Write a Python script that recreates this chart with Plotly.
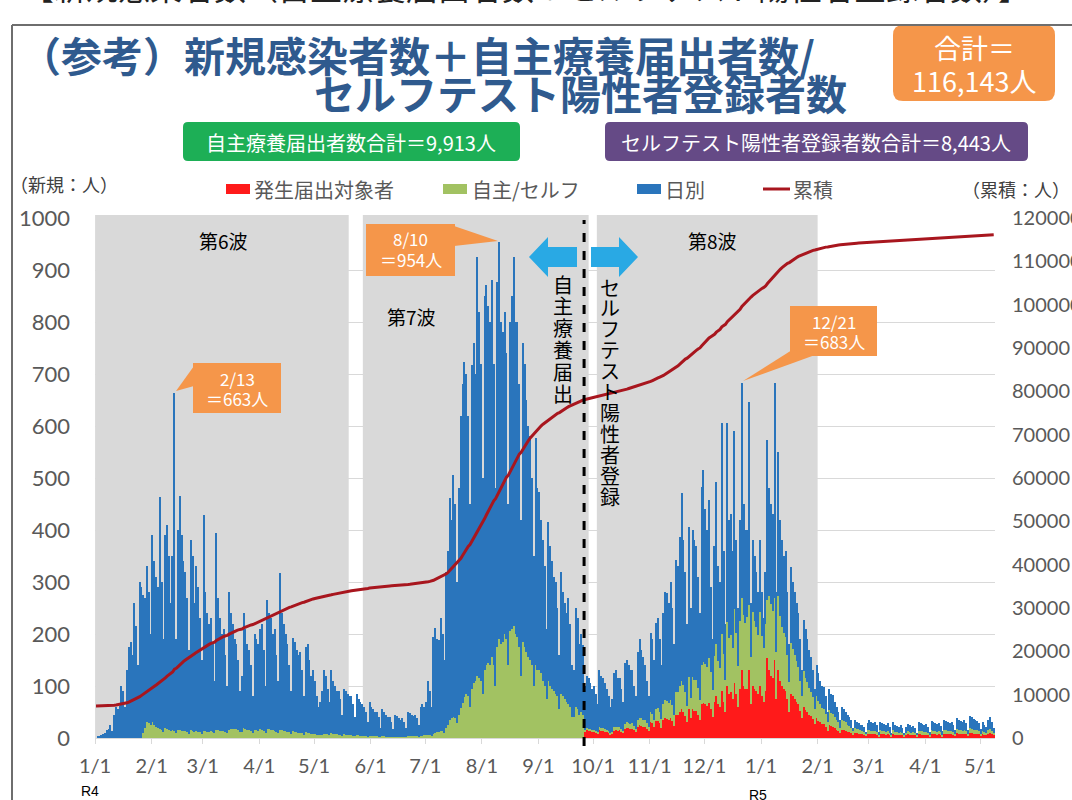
import pandas as pd
import plotly.graph_objects as go

# ---------------------------------------------------------------------------
# Data
# ---------------------------------------------------------------------------
TOTAL_CASES = 116143        # 合計
SELF_CARE_TOTAL = 9913      # 自主療養届出者数合計
SELF_TEST_TOTAL = 8443      # セルフテスト陽性者登録者数合計

dates = pd.date_range("2022-01-01", "2023-05-08", freq="D")

# daily new cases (日別), one row per week starting Saturday 2022-01-01
daily_total = [
    0, 2, 3, 5, 8, 10, 15,
    18, 25, 14, 45, 60, 55, 62,
    100, 90, 60, 130, 175, 185, 160,
    260, 215, 140, 300, 290, 275, 270,
    330, 280, 200, 390, 340, 310, 290,
    463, 300, 190, 390, 410, 350, 260,
    350, 663, 190, 400, 465, 390, 340,
    320, 270, 170, 380, 350, 260, 330,
    290, 230, 150, 429, 280, 240, 220,
    230, 180, 110, 394, 270, 230, 200,
    210, 160, 100, 280, 240, 220, 190,
    180, 150, 90, 120, 240, 210, 180,
    170, 140, 80, 200, 190, 180, 210,
    220, 170, 100, 265, 240, 230, 200,
    210, 160, 110, 317, 240, 220, 200,
    180, 140, 90, 192, 185, 170, 160,
    165, 130, 80, 175, 180, 150, 120,
    130, 110, 80, 60, 70, 90, 130,
    120, 95, 70, 131, 110, 100, 90,
    90, 75, 45, 95, 90, 85, 80,
    80, 65, 40, 85, 75, 70, 65,
    60, 50, 30, 70, 60, 55, 50,
    50, 40, 20, 55, 50, 45, 40,
    40, 30, 18, 45, 42, 38, 35,
    38, 30, 20, 50, 48, 45, 42,
    45, 38, 25, 60, 65, 60, 70,
    110, 90, 60, 195, 211, 190, 188,
    230, 200, 150, 320, 360, 461, 420,
    505, 450, 300, 480, 620, 680, 723,
    700, 620, 450, 717, 760, 700, 925,
    820, 720, 500, 850, 871, 830, 800,
    880, 720, 480, 877, 954, 800, 780,
    820, 740, 450, 800, 850, 925, 800,
    800, 680, 420, 760, 720, 650, 600,
    580, 500, 350, 577, 480, 473, 420,
    380, 330, 210, 415, 370, 340, 310,
    300, 250, 160, 320, 280, 260, 240,
    270, 220, 140, 130, 250, 230, 180,
    200, 179, 100, 120, 115, 105, 95,
    100, 85, 65, 130, 120, 115, 105,
    95, 80, 60, 75, 125, 130, 115,
    115, 95, 70, 145, 150, 140, 130,
    130, 100, 80, 165, 190, 170, 155,
    140, 110, 80, 202, 190, 150, 221,
    230, 190, 140, 240, 280, 279, 260,
    300, 250, 180, 342, 330, 386, 471,
    380, 320, 220, 406, 250, 400, 380,
    370, 310, 240, 483, 515, 440, 400,
    458, 290, 190, 370, 492, 330, 300,
    605, 360, 220, 605, 420, 430, 360,
    590, 380, 250, 420, 683, 450, 400,
    400, 646, 260, 380, 350, 320, 280,
    380, 280, 230, 320, 573, 480, 450,
    430, 683, 280, 550, 420, 380, 350,
    360, 280, 180, 329, 300, 280, 260,
    240, 190, 130, 227, 210, 190, 170,
    156, 130, 95, 140, 125, 110, 100,
    98, 80, 50, 95, 85, 83, 70,
    60, 50, 35, 60, 55, 50, 45,
    40, 35, 20, 35, 30, 28, 25,
    25, 22, 12, 28, 35, 30, 28,
    30, 25, 12, 30, 28, 26, 25,
    28, 22, 10, 30, 25, 24, 22,
    25, 20, 10, 22, 26, 25, 22,
    24, 20, 10, 30, 28, 27, 25,
    26, 22, 12, 32, 30, 28, 27,
    28, 24, 14, 35, 32, 30, 28,
    30, 25, 15, 38, 35, 33, 30,
    35, 28, 15, 42, 40, 36, 34,
    32, 28, 18, 30, 25, 22, 35,
    40, 30, 20,
]

# 自主療養届出 (to 2022-09-25) / セルフテスト陽性者登録 (from 2022-09-26)
self_reported = [
    0, 0, 0, 0, 0, 0, 0,
    0, 0, 0, 0, 0, 0, 0,
    0, 0, 0, 0, 0, 0, 0,
    0, 0, 0, 0, 0, 10, 20,
    30, 28, 25, 30, 25, 22, 20,
    18, 15, 12, 20, 18, 16, 14,
    15, 14, 10, 16, 15, 14, 13,
    13, 12, 8, 15, 14, 12, 13,
    12, 11, 8, 14, 13, 12, 12,
    14, 12, 9, 16, 15, 14, 13,
    13, 12, 9, 16, 18, 18, 17,
    18, 16, 12, 12, 20, 18, 16,
    16, 14, 10, 16, 15, 14, 17,
    16, 14, 10, 18, 17, 16, 15,
    14, 12, 9, 16, 15, 14, 13,
    12, 11, 8, 13, 12, 11, 10,
    10, 9, 6, 11, 10, 9, 8,
    8, 7, 6, 5, 5, 6, 8,
    8, 7, 5, 9, 8, 7, 7,
    6, 5, 4, 7, 6, 5, 5,
    5, 4, 3, 5, 5, 4, 4,
    4, 3, 2, 4, 3, 3, 3,
    3, 2, 1, 3, 3, 2, 2,
    2, 2, 1, 2, 2, 2, 2,
    2, 2, 1, 3, 3, 3, 3,
    3, 3, 2, 4, 4, 5, 5,
    6, 5, 4, 8, 10, 11, 12,
    14, 13, 10, 20, 25, 35, 38,
    40, 38, 28, 45, 58, 68, 78,
    85, 80, 60, 95, 105, 110, 120,
    115, 110, 85, 130, 140, 145, 140,
    155, 140, 100, 175, 190, 180, 185,
    200, 190, 140, 205, 210, 215, 200,
    195, 175, 120, 185, 175, 165, 155,
    150, 140, 100, 140, 130, 130, 125,
    110, 100, 75, 110, 100, 95, 90,
    85, 80, 55, 85, 80, 75, 70,
    65, 60, 40, 40, 60, 55, 45,
    50, 45, 3, 4, 4, 4, 4,
    4, 4, 3, 6, 6, 6, 5,
    5, 4, 3, 4, 7, 7, 7,
    7, 6, 4, 9, 10, 10, 9,
    10, 8, 6, 13, 14, 14, 13,
    13, 11, 8, 20, 19, 13, 24,
    26, 22, 16, 31, 35, 34, 33,
    36, 31, 21, 44, 44, 50, 55,
    52, 46, 31, 62, 39, 62, 60,
    60, 52, 39, 75, 78, 78, 75,
    85, 72, 52, 88, 101, 83, 75,
    110, 91, 62, 124, 107, 110, 98,
    143, 117, 78, 130, 140, 137, 127,
    137, 125, 91, 143, 130, 124, 114,
    143, 117, 104, 130, 112, 143, 137,
    130, 120, 91, 143, 124, 114, 107,
    104, 85, 58, 98, 91, 85, 78,
    72, 58, 42, 68, 62, 57, 52,
    47, 42, 29, 43, 39, 35, 31,
    29, 25, 16, 29, 26, 25, 21,
    18, 16, 10, 18, 17, 16, 13,
    12, 10, 7, 10, 9, 9, 8,
    7, 6, 4, 8, 8, 7, 7,
    7, 6, 3, 7, 7, 6, 6,
    7, 5, 2, 7, 6, 6, 5,
    6, 5, 2, 5, 6, 6, 5,
    6, 5, 3, 7, 7, 7, 6,
    6, 5, 3, 8, 7, 7, 6,
    7, 6, 3, 8, 7, 7, 7,
    7, 6, 4, 9, 8, 8, 7,
    8, 7, 4, 9, 9, 8, 8,
    7, 6, 4, 7, 6, 5, 8,
    9, 7, 5,
]

# 発生届出対象者, reported from 2022-09-26
notified_start = "2022-09-26"
notified = [
    12, 15, 14, 13, 12,
    12, 10, 8, 15, 14, 13, 12,
    11, 9, 7, 8, 14, 15, 14,
    15, 12, 9, 18, 20, 19, 18,
    18, 15, 11, 22, 25, 24, 22,
    22, 18, 14, 30, 28, 22, 32,
    32, 28, 20, 35, 38, 37, 35,
    38, 32, 24, 45, 45, 50, 55,
    50, 42, 30, 55, 38, 55, 52,
    52, 45, 35, 65, 68, 65, 62,
    68, 55, 40, 70, 80, 65, 60,
    90, 70, 50, 100, 85, 88, 75,
    106, 85, 60, 95, 130, 100, 95,
    95, 130, 65, 100, 95, 90, 85,
    100, 80, 70, 90, 153, 130, 120,
    115, 150, 75, 130, 110, 100, 95,
    90, 75, 50, 85, 80, 75, 70,
    65, 52, 38, 60, 54, 50, 45,
    42, 36, 26, 38, 32, 30, 27,
    26, 22, 14, 25, 23, 22, 19,
    16, 14, 10, 16, 15, 14, 12,
    11, 10, 6, 10, 9, 8, 7,
    7, 6, 4, 8, 8, 7, 7,
    7, 6, 3, 8, 7, 7, 6,
    7, 5, 3, 8, 6, 6, 5,
    6, 5, 3, 5, 7, 6, 5,
    6, 5, 3, 7, 7, 6, 6,
    6, 5, 3, 8, 7, 7, 6,
    7, 6, 3, 8, 8, 7, 7,
    7, 6, 4, 9, 8, 8, 7,
    8, 7, 4, 10, 9, 8, 8,
    8, 7, 4, 7, 6, 5, 8,
    9, 7, 5,
]

month_ticks = pd.date_range("2022-01-01", "2023-05-01", freq="MS")
month_labels = [f"{d.month}/1" for d in month_ticks]

wave_periods = [
    ("第6波", "2022-01-01", "2022-05-20"),
    ("第7波", "2022-05-27T18:00", "2022-09-28T12:00"),
    ("第8波", "2022-10-03", "2023-02-01"),
]
system_change = "2022-09-26"

assert len(daily_total) == len(dates) == len(self_reported)

# ---------------------------------------------------------------------------
# Derived series
# ---------------------------------------------------------------------------
x_day = dates + pd.Timedelta(hours=12)
x_notified = pd.date_range(notified_start, periods=len(notified), freq="D") + pd.Timedelta(hours=12)
notified_full = [0] * (len(dates) - len(notified)) + notified
other = [t - s - n for t, s, n in zip(daily_total, self_reported, notified_full)]

cumulative = []
running = TOTAL_CASES - sum(daily_total)
for v in daily_total:
    running += v
    cumulative.append(running)

# ---------------------------------------------------------------------------
# Styling
# ---------------------------------------------------------------------------
JP = "Noto Sans CJK JP"
NUM = "Lato"
BLUE = "#2A75BC"
GREEN = "#A2C262"
RED = "#FF1A1A"
LINE = "#A8161E"
ORANGE = "#F5964A"
TITLE = "#2F5A8E"
SHADE = "#D9D9D9"
ARROW = "#29A9E4"
AXIS_TXT = "#595959"

L, R, T, B = 95, 995, 218, 738


def px(xp):
    return (xp - L) / (R - L)


def py(yp):
    return (B - yp) / (B - T)


def poly(points):
    p = " ".join(f"{'M' if i == 0 else 'L'} {px(a):.5f},{py(b):.5f}" for i, (a, b) in enumerate(points))
    return p + " Z"


def rounded_rect(x0, y0, x1, y1, r):
    c = lambda a, b: f"{px(a):.5f},{py(b):.5f}"
    return " ".join([
        f"M {c(x0 + r, y0)}", f"L {c(x1 - r, y0)}", f"Q {c(x1, y0)} {c(x1, y0 + r)}",
        f"L {c(x1, y1 - r)}", f"Q {c(x1, y1)} {c(x1 - r, y1)}", f"L {c(x0 + r, y1)}",
        f"Q {c(x0, y1)} {c(x0, y1 - r)}", f"L {c(x0, y0 + r)}", f"Q {c(x0, y0)} {c(x0 + r, y0)}", "Z",
    ])


def text(t, x, y, size, color="#000000", family=JP, xanchor="center", weight=None):
    f = dict(family=family, size=size, color=color)
    if weight:
        f["weight"] = weight
    return dict(text=t, x=px(x), y=py(y), xref="paper", yref="paper", showarrow=False,
                xanchor=xanchor, yanchor="middle", font=f)


# ---------------------------------------------------------------------------
# Figure
# ---------------------------------------------------------------------------
fig = go.Figure()
fig.add_trace(go.Bar(x=x_notified, y=notified, name="発生届出対象者", marker=dict(color=RED, line=dict(width=0))))
fig.add_trace(go.Bar(x=x_day, y=self_reported, name="自主/セルフ", marker=dict(color=GREEN, line=dict(width=0))))
fig.add_trace(go.Bar(x=x_day, y=other, name="日別", marker=dict(color=BLUE, line=dict(width=0))))
fig.add_trace(go.Scatter(x=x_day, y=cumulative, name="累積", yaxis="y2", mode="lines",
                         line=dict(color=LINE, width=3)))

shapes = []
# wave shading
for _, a, b in wave_periods:
    shapes.append(dict(type="rect", xref="x", yref="paper", x0=a, x1=b, y0=0, y1=py(215),
                       fillcolor=SHADE, line=dict(width=0), layer="between"))
# reporting system change
shapes.append(dict(type="line", xref="x", yref="paper", x0=system_change, x1=system_change,
                   y0=py(746), y1=py(220), line=dict(color="#000000", width=3, dash="dash"), layer="above"))
# arrows
shapes.append(dict(type="path", xref="paper", yref="paper", layer="above", line=dict(width=0), fillcolor=ARROW,
                   path=poly([(529, 257), (548, 237), (548, 247), (577, 247), (577, 267), (548, 267), (548, 277)])))
shapes.append(dict(type="path", xref="paper", yref="paper", layer="above", line=dict(width=0), fillcolor=ARROW,
                   path=poly([(638, 257), (619, 237), (619, 247), (591, 247), (591, 267), (619, 267), (619, 277)])))
# peak callouts
callouts = [
    ((193, 363, 281, 413), [(194, 366), (176, 391), (194, 386)], "2/13", "＝663人"),
    ((366, 224, 455, 276), [(454, 226), (498, 241), (454, 246)], "8/10", "＝954人"),
    ((790, 306, 877, 356), [(792, 350), (743, 381), (815, 355)], "12/21", "＝683人"),
]
for (x0, y0, x1, y1), wedge, _, _ in callouts:
    shapes.append(dict(type="rect", xref="paper", yref="paper", x0=px(x0), x1=px(x1), y0=py(y1), y1=py(y0),
                       fillcolor=ORANGE, line=dict(width=0), layer="above"))
    shapes.append(dict(type="path", xref="paper", yref="paper", path=poly(wedge),
                       fillcolor=ORANGE, line=dict(width=0), layer="above"))
# header boxes
shapes.append(dict(type="path", xref="paper", yref="paper", path=rounded_rect(893, 25, 1055, 101, 10),
                   fillcolor=ORANGE, line=dict(width=0)))
shapes.append(dict(type="path", xref="paper", yref="paper", path=rounded_rect(183, 122, 520, 161, 5),
                   fillcolor="#1DAF56", line=dict(width=0)))
shapes.append(dict(type="path", xref="paper", yref="paper", path=rounded_rect(605, 122, 1028, 161, 5),
                   fillcolor="#654A86", line=dict(width=0)))
# legend swatches
for x0, col in [(226, RED), (443, GREEN), (637, BLUE)]:
    shapes.append(dict(type="rect", xref="paper", yref="paper", x0=px(x0), x1=px(x0 + 24),
                       y0=py(194), y1=py(184), fillcolor=col, line=dict(width=0)))
shapes.append(dict(type="line", xref="paper", yref="paper", x0=px(763), x1=px(790), y0=py(189), y1=py(189),
                   line=dict(color=LINE, width=3)))
# frame
shapes.append(dict(type="line", xref="paper", yref="paper", x0=px(12), x1=px(1075), y0=py(25), y1=py(25),
                   line=dict(color="#6E6E6E", width=2)))
shapes.append(dict(type="line", xref="paper", yref="paper", x0=px(12), x1=px(12), y0=py(25), y1=py(805),
                   line=dict(color="#6E6E6E", width=2)))

ann = []
ann.append(text("【新規感染者数（自主療養届出者数＋セルフテスト陽性者登録者数）】", 20, -14, 32,
                color="#222222", xanchor="left"))
ann.append(text("（参考）新規感染者数＋自主療養届出者数/", 18, 54, 41, TITLE, xanchor="left", weight=700))
ann.append(text("セルフテスト陽性者登録者数", 312, 92, 41, TITLE, xanchor="left", weight=700))
ann.append(text("合計＝", 974, 47, 27, "#FFFFFF"))
ann.append(text(f"{TOTAL_CASES:,}人", 974, 80, 27, "#FFFFFF"))
ann.append(text(f"自主療養届出者数合計＝{SELF_CARE_TOTAL:,}人", 351, 142, 20, "#FFFFFF"))
ann.append(text(f"セルフテスト陽性者登録者数合計＝{SELF_TEST_TOTAL:,}人", 816, 142, 20, "#FFFFFF"))
ann.append(text("（新規：人）", 8, 184, 18, "#404040", xanchor="left"))
ann.append(text("（累積：人）", 1072, 189, 18, "#404040", xanchor="right"))
for lbl, x0 in [("発生届出対象者", 252), ("自主/セルフ", 470), ("日別", 663), ("累積", 791)]:
    ann.append(text(lbl, x0, 189, 20, AXIS_TXT, xanchor="left"))
for (lbl, _, _), (cx, cy) in zip(wave_periods, [(223, 241), (411, 316), (712, 241)]):
    ann.append(text(lbl, cx, cy, 19))
for (x0, y0, x1, y1), _, l1, l2 in callouts:
    cx = (x0 + x1) / 2
    ann.append(text(l1, cx, y0 + 15, 17, "#FFFFFF"))
    ann.append(text(l2, cx, y0 + 35, 17, "#FFFFFF"))
for i, ch in enumerate("自主療養届出"):
    ann.append(text(ch, 563, 284 + 21.8 * i, 20))
for i, ch in enumerate("セルフテスト陽性者登録"):
    ann.append(text(ch, 610, 287 + 20.9 * i, 20))
ann.append(text("R4", 90, 791, 14, family="Liberation Sans"))
ann.append(text("R5", 758, 795, 14, family="Liberation Sans"))

fig.update_layout(
    width=1072, height=800,
    margin=dict(l=L, r=1072 - R, t=T, b=800 - B, pad=0, autoexpand=False),
    paper_bgcolor="white", plot_bgcolor="white",
    barmode="stack", bargap=0.3,
    showlegend=False,
    shapes=shapes, annotations=ann,
    xaxis=dict(type="date", range=["2021-12-31T23:00", "2023-05-09T05:00"], automargin=False,
               tickvals=month_ticks, ticktext=month_labels,
               tickfont=dict(family=NUM, size=20, color=AXIS_TXT),
               showgrid=False, showline=True, linecolor="#D9D9D9", linewidth=1,
               ticks="outside", ticklen=5, tickcolor="#D9D9D9", ticklabelstandoff=5),
    yaxis=dict(range=[0, 1000], dtick=100, showgrid=True, gridcolor="#D9D9D9", gridwidth=1,
               zeroline=False, showline=False, ticks="", automargin=False,
               tickfont=dict(family=NUM, size=22, color=AXIS_TXT), ticklabelstandoff=24),
    yaxis2=dict(range=[0, 120000], dtick=10000, overlaying="y", side="right", showgrid=False,
                zeroline=False, showline=False, ticks="", tickformat="d", automargin=False,
                tickfont=dict(family=NUM, size=20, color=AXIS_TXT), ticklabelstandoff=16),
)

fig.write_html("out.html")
